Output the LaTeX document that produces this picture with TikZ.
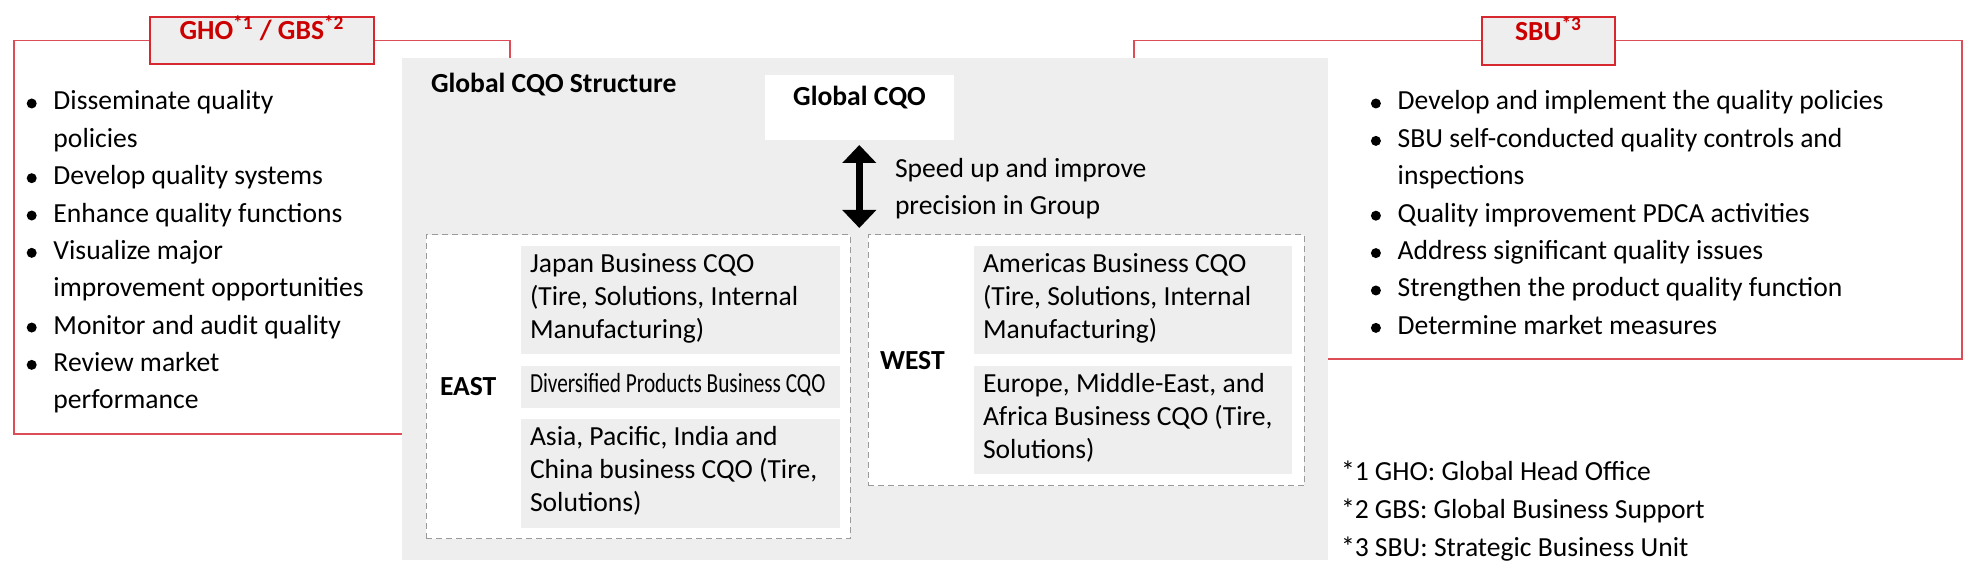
\documentclass[tikz,border=0pt]{standalone}
\usepackage{fontspec}
\setmainfont{Carlito}
\newfontfamily\narrowfont[FakeStretch=0.77]{Carlito}
\usetikzlibrary{fit,arrows.meta}
\definecolor{cqogray}{HTML}{EDEEED}
\definecolor{bsred}{HTML}{D7282F}
\definecolor{framered}{HTML}{DC4D57}
\definecolor{bstext}{HTML}{CC0000}
\definecolor{dashgray}{HTML}{9A9A9A}
\newcommand\bfs{\fontsize{13.8pt}{18.67pt}\selectfont}
\newcommand\myitem{\leavevmode\llap{\tikz[baseline=-3.25pt]\fill[black] (0,0) circle (2.5pt);\hspace{8.4pt}}}
\newcommand\txtblock[2]{\parbox[t]{400pt}{\fontsize{13.8pt}{#1}\selectfont\raggedright #2}}
\begin{document}
\begin{tikzpicture}[x=0.5pt,y=-0.5pt,
  every node/.style={inner sep=0pt, outer sep=0pt, font=\bfs},
  redframe/.style={draw=framered, line width=0.75pt},
  labelbox/.style={draw=bsred, line width=1pt, fill=cqogray, inner sep=0pt, font=\bfs\bfseries, text=bstext},
  graybox/.style={fill=cqogray, inner sep=0pt},
  whitebox/.style={fill=white, inner sep=0pt, font=\bfs\bfseries},
  dashbox/.style={draw=dashgray, dash pattern=on 3pt off 2pt, line width=0.5pt, fill=white, inner sep=0pt},
  txt/.style={anchor=base west, inner sep=0pt},
  boldtxt/.style={anchor=base west, inner sep=0pt, font=\bfs\bfseries},
  bigarrow/.style={line width=3.5pt, {Triangle[width=16.5pt,length=9pt]}-{Triangle[width=16.5pt,length=9pt]}}
]
\useasboundingbox (0,0) rectangle (1972,581);

% red frames
\draw[redframe] (14,40.7) rectangle (510,434);
\draw[redframe] (1134,40.7) rectangle (1962,359);

% main gray structure box
\node[graybox, fit={(402,58) (1328,560)}] (struct) {};

% labels
\node[labelbox, fit={(150,16.7) (374,64)}] (gho) {GHO\textsuperscript{*1} / GBS\textsuperscript{*2}};
\node[labelbox, fit={(1482,17) (1615,65)}] (sbu) {SBU\textsuperscript{*3}};

% left list
\node[txt] (ghotext) at (53.5,110) {\txtblock{18.67pt}{%
\myitem Disseminate quality\\
policies\\
\myitem Develop quality systems\\
\myitem Enhance quality functions\\
\myitem Visualize major\\
improvement opportunities\\
\myitem Monitor and audit quality\\
\myitem Review market\\
performance}};

% right list
\node[txt] (sbutext) at (1397.7,110) {\txtblock{18.7pt}{%
\myitem Develop and implement the quality policies\\
\myitem SBU self-conducted quality controls and\\
inspections\\
\myitem Quality improvement PDCA activities\\
\myitem Address significant quality issues\\
\myitem Strengthen the product quality function\\
\myitem Determine market measures}};

% structure contents
\node[boldtxt] (title) at (431,93) {Global CQO Structure};
\node[whitebox, fit={(765,75) (954,140)}] (gcqo) {Global CQO};

\node[dashbox, fit={(426,235) (850,539)}] (east) {};
\node[dashbox, fit={(868,235) (1304,486)}] (west) {};

\coordinate (arrtop) at (859.3,145);
\coordinate (arrbot) at (859.3,228);
\draw[bigarrow] (arrtop) -- (arrbot);
\node[txt] (speed) at (895,178) {\txtblock{18.5pt}{Speed up and improve\\precision in Group}};

\node[boldtxt] (eastlbl) at (440,395.4) {EAST};
\node[boldtxt] (westlbl) at (880,370) {WEST};

\node[graybox, fit={(520.5,246) (840,353.6)}] (japan) {};
\node[graybox, fit={(520.5,366) (840,408)}] (divers) {};
\node[graybox, fit={(520.5,419.5) (840,528)}] (asia) {};
\node[graybox, fit={(974,246) (1292,353.6)}] (amer) {};
\node[graybox, fit={(974,366) (1292,474)}] (europe) {};

\node[txt] (japantext) at (530,273) {\txtblock{16.5pt}{Japan Business CQO\\(Tire, Solutions, Internal\\Manufacturing)}};
\node[txt] (diverstext) at (530,393) {\narrowfont Diversified Products Business CQO};
\node[txt] (asiatext) at (530,446) {\txtblock{16.5pt}{Asia, Pacific, India and\\China business CQO (Tire,\\Solutions)}};
\node[txt] (amertext) at (983,273) {\txtblock{16.5pt}{Americas Business CQO\\(Tire, Solutions, Internal\\Manufacturing)}};
\node[txt] (europetext) at (983,392.7) {\txtblock{16.5pt}{Europe, Middle-East, and\\Africa Business CQO (Tire,\\Solutions)}};

% footnotes
\node[txt] (notes) at (1341,480.7) {\txtblock{18.85pt}{*1 GHO: Global Head Office\\{*}2 GBS: Global Business Support\\{*}3 SBU: Strategic Business Unit}};
\end{tikzpicture}
\end{document}
